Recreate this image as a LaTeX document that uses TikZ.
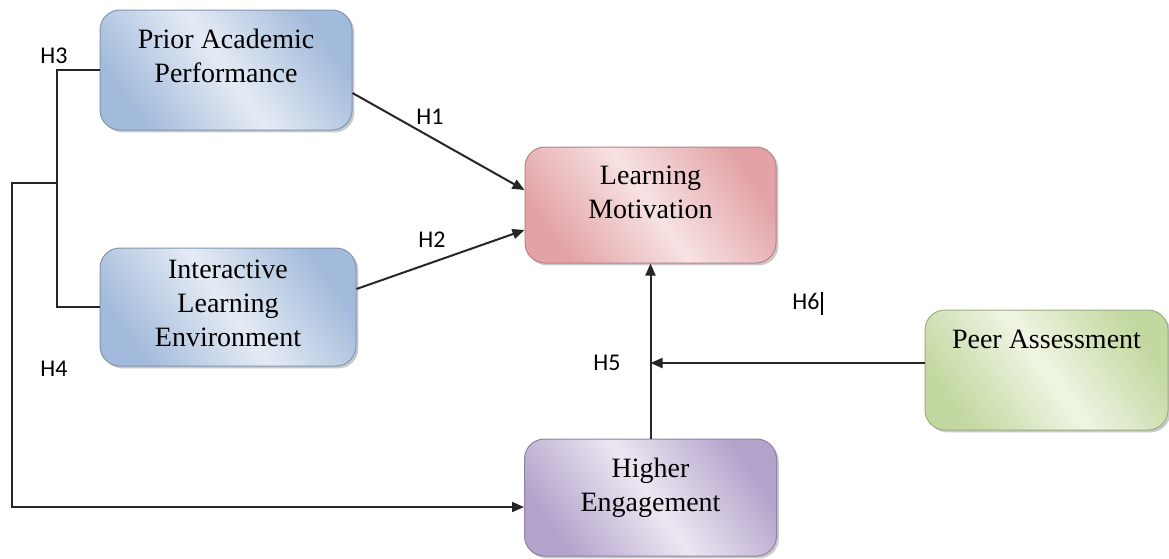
\documentclass[tikz,border=0pt]{standalone}
\usepackage{fontspec}
\setmainfont{Liberation Serif}
\newfontfamily\hfont{Carlito}
\usepackage{tikz}
\usetikzlibrary{arrows.meta, positioning, shadows}

\definecolor{blueEdge}{HTML}{A2BADB}
\definecolor{blueLight}{HTML}{E5EBF4}
\definecolor{pinkEdge}{HTML}{E3A3A6}
\definecolor{pinkLight}{HTML}{F7E2E3}
\definecolor{purpEdge}{HTML}{B3A3CB}
\definecolor{purpLight}{HTML}{ECE7F2}
\definecolor{greenEdge}{HTML}{C3D8A0}
\definecolor{greenLight}{HTML}{EFF5E4}

\begin{document}
\begin{tikzpicture}[
    x=0.5pt, y=-0.5pt,
    box/.style={rectangle, rounded corners=10pt, draw=#1Edge!80!black, line width=0.5pt,
                left color=#1Edge, right color=#1Edge, middle color=#1Light, shading angle=125,
                drop shadow={shadow xshift=1.2pt, shadow yshift=-1.2pt, opacity=0.35, fill=black!60},
                align=center, font=\fontsize{14}{17}\selectfont},
    hyp/.style={font=\hfont\fontsize{12}{14}\selectfont, inner sep=0pt},
    arr/.style={-{Triangle[length=6pt,width=5pt]}, line width=1pt, draw=black!85},
    ln/.style={line width=1pt, draw=black!85}
]
\useasboundingbox (0,0) rectangle (1169,558);

\node[box=blue, minimum width=126pt, minimum height=60pt, text depth=14pt] (prior) at (226,70) {Prior Academic\\Performance};
\node[box=blue, minimum width=128pt, minimum height=59pt, text depth=3.5pt,
      below right=58.5pt and 0pt of prior.south west] (inter) {Interactive\\Learning\\Environment};
\node[box=pink, minimum width=125.5pt, minimum height=58pt, text depth=12.5pt] (motiv) at (650.5,205) {Learning\\Motivation};
\node[box=purp, minimum width=126pt, minimum height=58.5pt, text depth=12.5pt,
      below=87.5pt of motiv] (engage) {Higher\\Engagement};
\node[box=green, minimum width=121.5pt, minimum height=60pt, text depth=30.5pt] (peer) at (1046.5,370) {Peer Assessment};

% hypothesis labels
\node[hyp] (h1) at (430,117) {H1};
\node[hyp] (h2) at (432,240) {H2};
\node[hyp] (h3) at (54,56)   {H3};
\node[hyp] (h4) at (54,369)  {H4};
\node[hyp] (h5) at (607,363) {H5};
\node[hyp] (h6) at (806,301) {H6};
\draw[line width=1.2pt] (822,292) -- (822,315);

\draw[arr] ([yshift=-11.5pt]prior.east) -- ([yshift=7.5pt]motiv.west);
\draw[arr] ([yshift=9pt]inter.east) -- ([yshift=-12.5pt]motiv.west);
\draw[ln] (prior.west) -- ++(-43,0) |- (inter.west);

\coordinate (split) at (57,183);
\coordinate (outer) at (12,183);
\draw[arr] (split) -- (outer) |- ([yshift=-4.75pt]engage.west);

\draw[arr] (engage.north) -- (engage.north |- motiv.south);
\path ([yshift=3.5pt]peer.west) coordinate (pw);
\coordinate (jn) at (engage.north |- pw);
\draw[arr] (pw) -- (jn);
\end{tikzpicture}
\end{document}
